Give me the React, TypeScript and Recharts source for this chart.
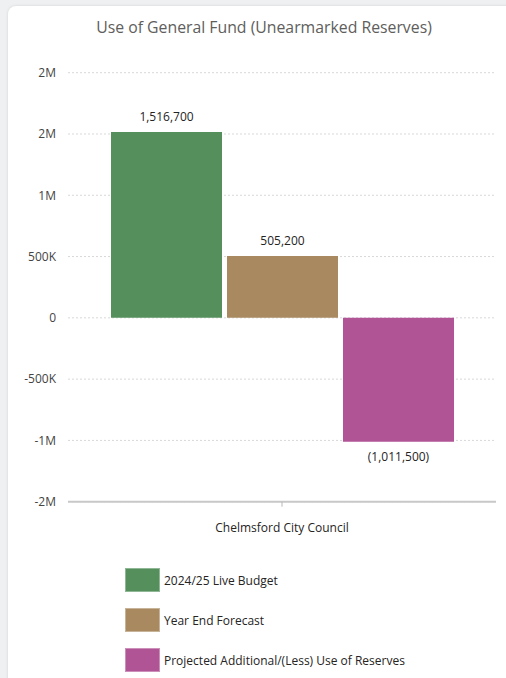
import React from "react";
import { BarChart, Bar, XAxis, YAxis, CartesianGrid, LabelList } from "recharts";

const categories = ["Chelmsford City Council"];
const seriesNames = ["2024/25 Live Budget", "Year End Forecast", "Projected Additional/(Less) Use of Reserves"];
const liveBudget = [1516700];
const yearEndForecast = [505200];
const useOfReserves = [-1011500];
const yTicks = [-1500000, -1000000, -500000, 0, 500000, 1000000, 1500000, 2000000];

const COLORS = ["#548F5C", "#A98A60", "#B05496"];
const FONT = "'Open Sans', 'Noto Sans', sans-serif";

const data = categories.map((c, i) => ({
  name: c,
  s0: liveBudget[i],
  s1: yearEndForecast[i],
  s2: useOfReserves[i],
}));

const fmtTick = (v: number) => {
  const a = Math.abs(v);
  const sign = v < 0 ? "-" : "";
  if (a >= 1000000) return sign + Math.round(a / 1000000) + "M";
  if (a >= 1000) return sign + Math.round(a / 1000) + "K";
  return String(v);
};

const fmtLabel = (v: any) => {
  const n = Number(v);
  const s = Math.abs(n).toLocaleString("en-US");
  return n < 0 ? "(" + s + ")" : s;
};

const labelStyle = { fontFamily: FONT, fontSize: 12, fill: "#252423" };

export default function App() {
  return (
    <div style={{ position: "fixed", left: 0, top: 0, width: 506, height: 678, background: "#eef0f2", overflow: "hidden" }}>
      <div
        style={{
          position: "absolute",
          left: 8,
          top: 6,
          width: 510,
          height: 690,
          background: "#ffffff",
          borderTopLeftRadius: 8,
          boxShadow: "0 0 3px rgba(0,0,0,0.12)",
        }}
      />
      <div
        style={{
          position: "absolute",
          left: 8,
          top: 16,
          width: 512,
          textAlign: "center",
          fontFamily: FONT,
          fontSize: 15.8,
          color: "#605e5c",
        }}
      >
        Use of General Fund (Unearmarked Reserves)
      </div>
      <div style={{ position: "absolute", left: 0, top: 0 }}>
        <BarChart
          width={506}
          height={560}
          data={data}
          margin={{ top: 72.7, right: 10, bottom: 18.3, left: 0 }}
          barGap={5}
          barCategoryGap={43}
        >
          <CartesianGrid vertical={false} stroke="#d8d8d8" strokeDasharray="2 2" />
          <XAxis
            dataKey="name"
            height={40}
            axisLine={{ stroke: "#c8c8c8", strokeWidth: 2 }}
            tickLine={{ stroke: "#b8b8b8" }}
            tickSize={5}
            tick={{ fontFamily: FONT, fontSize: 12, fill: "#252423", width: 300 }}
            tickMargin={17}
          />
          <YAxis
            width={68}
            domain={[-1500000, 2000000]}
            ticks={yTicks}
            tickFormatter={fmtTick}
            axisLine={false}
            tickLine={false}
            tickSize={6}
            tickMargin={6}
            tick={{ fontFamily: FONT, fontSize: 12, fill: "#444444" }}
            interval={0}
          />
          <Bar dataKey="s0" name={seriesNames[0]} fill={COLORS[0]} isAnimationActive={false}>
            <LabelList dataKey="s0" position="top" offset={11} formatter={fmtLabel} style={labelStyle} />
          </Bar>
          <Bar dataKey="s1" name={seriesNames[1]} fill={COLORS[1]} isAnimationActive={false}>
            <LabelList dataKey="s1" position="top" offset={11} formatter={fmtLabel} style={labelStyle} />
          </Bar>
          <Bar dataKey="s2" name={seriesNames[2]} fill={COLORS[2]} isAnimationActive={false}>
            <LabelList dataKey="s2" position="top" offset={11} formatter={fmtLabel} style={labelStyle} />
          </Bar>
        </BarChart>
      </div>
      <div style={{ position: "absolute", left: 125, top: 560, fontFamily: FONT }}>
        {seriesNames.map((n, i) => (
          <div key={n} style={{ display: "flex", alignItems: "center", height: 40 }}>
            <div
              style={{
                width: 35,
                height: 24,
                background: COLORS[i],
                boxSizing: "border-box",
                border: "1px solid rgba(255,255,255,0.35)",
              }}
            />
            <span style={{ marginLeft: 4, fontSize: 12, color: "#252423" }}>{n}</span>
          </div>
        ))}
      </div>
    </div>
  );
}
